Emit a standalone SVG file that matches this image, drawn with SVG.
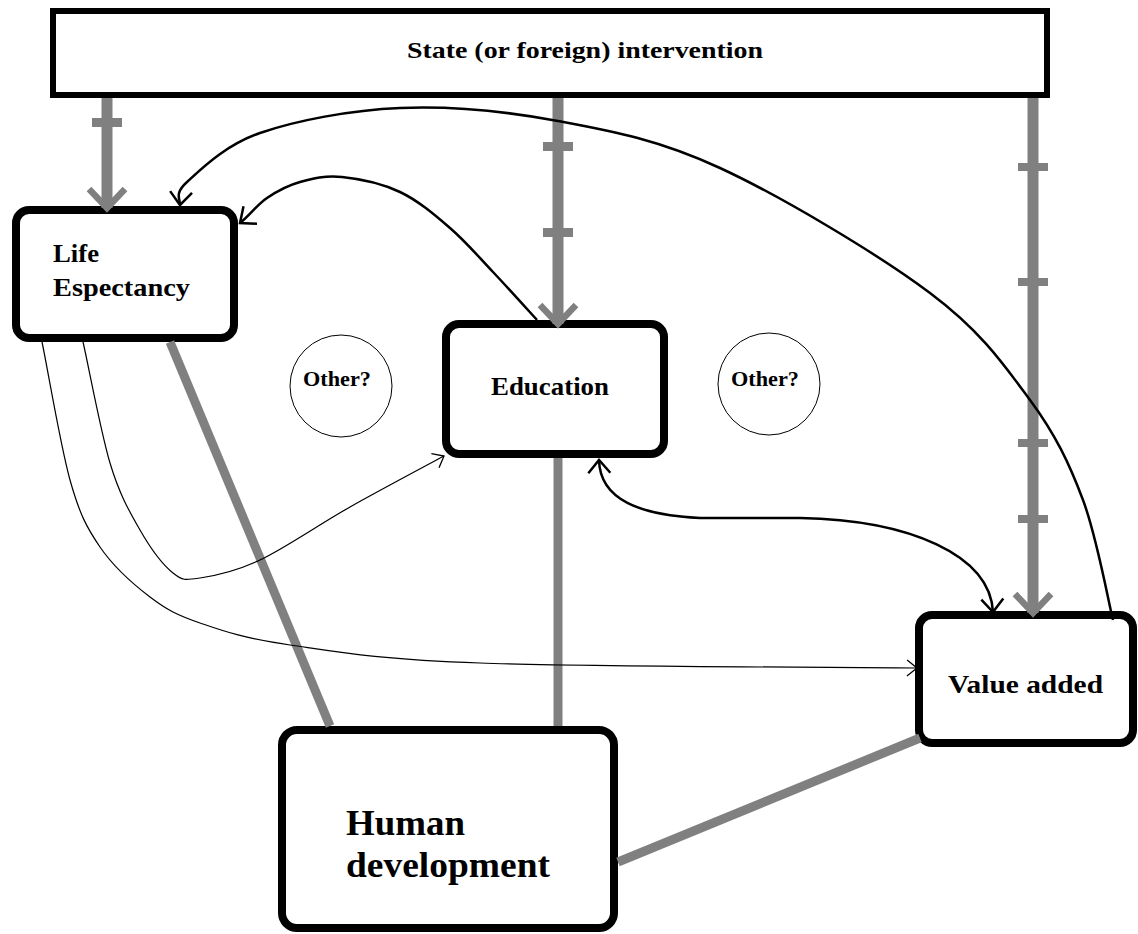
<svg xmlns="http://www.w3.org/2000/svg" width="1138" height="934" viewBox="0 0 1138 934">
<style>
.bg{fill:#fff}
.box{fill:#fff;stroke:#000;stroke-width:8}
.top{fill:#fff;stroke:#000;stroke-width:6}
.circ{fill:#fff;stroke:#000;stroke-width:1}
.gray{fill:none;stroke:#808080;stroke-width:11}
.gline{fill:none;stroke:#808080;stroke-width:9}
.tick{fill:#808080}
.curve{fill:none;stroke:#000;stroke-width:2.5}
.thin{fill:none;stroke:#000;stroke-width:1.2}
text{font-family:"Liberation Serif","Times New Roman",serif;font-weight:bold;fill:#000}
</style>
<defs>
<marker id="garrow" viewBox="-30 -30 60 60" markerWidth="60" markerHeight="60" refX="0" refY="0" markerUnits="userSpaceOnUse" orient="auto">
<path d="M-19,-18 L0,0 L-19,18" fill="none" stroke="#808080" stroke-width="6.5"/>
</marker>
<marker id="barrow" viewBox="-20 -20 40 40" markerWidth="40" markerHeight="40" refX="0" refY="0" markerUnits="userSpaceOnUse" orient="auto-start-reverse">
<path d="M-13,-11 L0,0 L-13,11" fill="none" stroke="#000" stroke-width="2.5"/>
</marker>
<marker id="tarrow" viewBox="-20 -20 40 40" markerWidth="40" markerHeight="40" refX="0" refY="0" markerUnits="userSpaceOnUse" orient="auto">
<path d="M-10,-8 L0,0 L-10,8" fill="none" stroke="#000" stroke-width="1.3"/>
</marker>
</defs>
<rect class="bg" x="0" y="0" width="1138" height="934"/>

<g id="node-state">
<rect class="top" x="53" y="11" width="994" height="84"/>
<text x="407" y="58" font-size="23" textLength="356" lengthAdjust="spacingAndGlyphs">State (or foreign) intervention</text>
</g>
<g id="node-life">
<rect class="box" x="16" y="210" width="218" height="128" rx="13"/>
<text x="53" y="262" font-size="26" textLength="46" lengthAdjust="spacingAndGlyphs">Life</text>
<text x="53" y="296" font-size="26" textLength="137" lengthAdjust="spacingAndGlyphs">Espectancy</text>
</g>
<g id="node-other1">
<circle class="circ" cx="341" cy="386" r="51"/>
<text x="303" y="386" font-size="21" textLength="68" lengthAdjust="spacingAndGlyphs">Other?</text>
</g>
<g id="node-education">
<rect class="box" x="446" y="324" width="218" height="130" rx="13"/>
<text x="491" y="395" font-size="26" textLength="118" lengthAdjust="spacingAndGlyphs">Education</text>
</g>
<g id="node-other2">
<circle class="circ" cx="769" cy="384" r="51"/>
<text x="731" y="386" font-size="21" textLength="68" lengthAdjust="spacingAndGlyphs">Other?</text>
</g>
<g id="node-value">
<rect class="box" x="919" y="615" width="214" height="128" rx="13"/>
<text x="948" y="693" font-size="26" textLength="155" lengthAdjust="spacingAndGlyphs">Value added</text>
</g>
<g id="node-human">
<rect class="box" x="282" y="730" width="332" height="198" rx="15"/>
<text x="346" y="835" font-size="35" textLength="119" lengthAdjust="spacingAndGlyphs">Human</text>
<text x="346" y="877" font-size="35" textLength="204" lengthAdjust="spacingAndGlyphs">development</text>
</g>

<g id="connectors">
<path class="gray" d="M107,98 L107,208" marker-end="url(#garrow)"/>
<rect class="tick" x="92" y="118" width="30" height="9"/>
<path class="gray" d="M558,98 L558,324" marker-end="url(#garrow)"/>
<rect class="tick" x="543" y="142" width="30" height="9"/>
<rect class="tick" x="543" y="228" width="30" height="9"/>
<path class="gray" d="M1033,98 L1033,613" marker-end="url(#garrow)"/>
<rect class="tick" x="1018" y="163" width="30" height="8"/>
<rect class="tick" x="1018" y="278" width="30" height="8"/>
<rect class="tick" x="1018" y="439" width="30" height="8"/>
<rect class="tick" x="1018" y="515" width="30" height="8"/>
<path class="gline" d="M170,342 L330,726"/>
<path class="gline" d="M558,458 L558,726"/>
<path class="gline" d="M618,862 L920,738"/>
<path class="curve" d="M1113,620 C1108,600 1096.8,536.7 1083,500 C1069.2,463.3 1055.5,434.5 1030,400 C1004.5,365.5 981.7,331.7 930,293 C878.3,254.3 782,196.7 720,168 C658,139.3 611.3,131 558,121 C504.7,111 449.7,106 400,108 C350.3,110 295.5,120.7 260,133 C224.5,145.3 200.3,170 187,182 C173.7,194 180.5,199 180,205" marker-end="url(#barrow)"/>
<path class="curve" d="M537,320 C529.7,312 507.5,287.3 493,272 C478.5,256.7 465.5,241.3 450,228 C434.5,214.7 418,200.5 400,192 C382,183.5 358.7,178.7 342,177 C325.3,175.3 312.5,178.5 300,182 C287.5,185.5 277,191.2 267,198 C257,204.8 249,216 240,223" marker-end="url(#barrow)"/>
<path class="curve" d="M599,460 C600,500 640,515 700,518 L800,518 C910,520 990,555 993,612" marker-start="url(#barrow)" marker-end="url(#barrow)"/>
<path class="thin" d="M83,342 C87.5,360.5 100.5,431.3 110,463 C119.5,494.7 129.5,511.7 140,530 C150.5,548.3 163,565 173,573 C183,581 185.5,580.2 200,578 C214.5,575.8 235,571.8 260,560 C285,548.2 319.3,524.3 350,507 C380.7,489.7 428.3,464.5 444,456" marker-end="url(#tarrow)"/>
<path class="thin" d="M42,342 C46.7,363.3 60.3,445.5 70,480 C79.7,514.5 86.7,527.5 100,547 C113.3,566.5 133.3,584.3 150,597 C166.7,609.7 176.7,615 200,623 C223.3,631 243.3,638.3 290,645 C336.7,651.7 375.3,659.2 480,663 C584.7,666.8 845,667.2 917,668" marker-end="url(#tarrow)"/>
</g>
</svg>
